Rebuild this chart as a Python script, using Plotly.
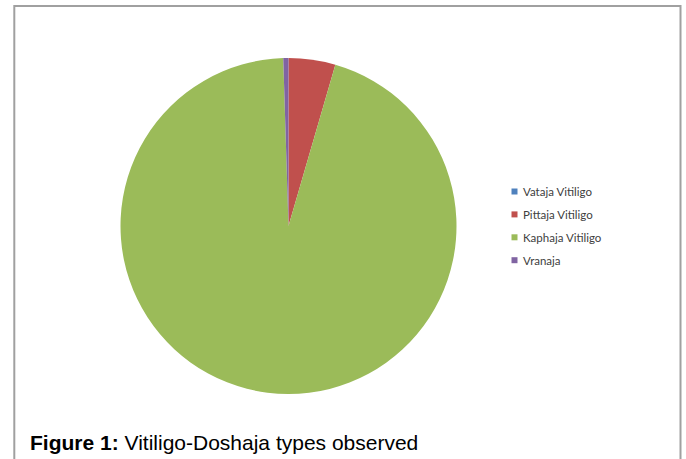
import plotly.graph_objects as go

categories = ["Vataja Vitiligo", "Pittaja Vitiligo", "Kaphaja Vitiligo", "Vranaja"]
values = [0, 9, 190, 1]
colors = ["#4F81BD", "#C0504D", "#9BBB59", "#8064A2"]
caption_bold = "Figure 1:"
caption_rest = " Vitiligo-Doshaja types observed"

W, H = 686, 459


def px(x):
    return x / W


def py(y):
    return (H - y) / H


fig = go.Figure()
fig.add_trace(go.Pie(
    labels=categories,
    values=values,
    marker=dict(colors=colors, line=dict(width=0)),
    sort=False,
    direction="clockwise",
    rotation=0,
    textinfo="none",
    hoverinfo="label+value+percent",
    showlegend=False,
    domain=dict(x=[px(120), px(457)], y=[py(394), py(58)]),
))

# border frame
fig.add_shape(type="rect", xref="paper", yref="paper",
              x0=px(14.3), x1=px(680.5), y0=-0.05, y1=py(6),
              line=dict(color="#A0A0A0", width=2), fillcolor="rgba(0,0,0,0)")

# custom legend
row0, step = 191.5, 22.9
for i, (name, col) in enumerate(zip(categories, colors)):
    yc = row0 + i * step
    fig.add_shape(type="rect", xref="paper", yref="paper",
                  x0=px(511.5), x1=px(517.5),
                  y0=py(yc + 3), y1=py(yc - 3),
                  fillcolor=col, line=dict(width=0))
    fig.add_annotation(x=px(521), y=py(yc), xref="paper", yref="paper",
                       text=name, showarrow=False, xanchor="left", yanchor="middle",
                       font=dict(family="Lato, Carlito, sans-serif", size=11.5, color="#404040"))

fig.add_annotation(x=px(28), y=py(442), xref="paper", yref="paper",
                   text="<b>" + caption_bold + "</b>" + caption_rest,
                   showarrow=False, xanchor="left", yanchor="middle",
                   font=dict(family="Liberation Sans, Arial, sans-serif", size=21, color="#000000"))

fig.update_layout(width=W, height=H, margin=dict(l=0, r=0, t=0, b=0),
                  paper_bgcolor="white", plot_bgcolor="white")

fig.write_html("out.html",
               config={"displayModeBar": False},
               post_script="document.body.style.margin='0px';document.body.style.overflow='hidden';")
